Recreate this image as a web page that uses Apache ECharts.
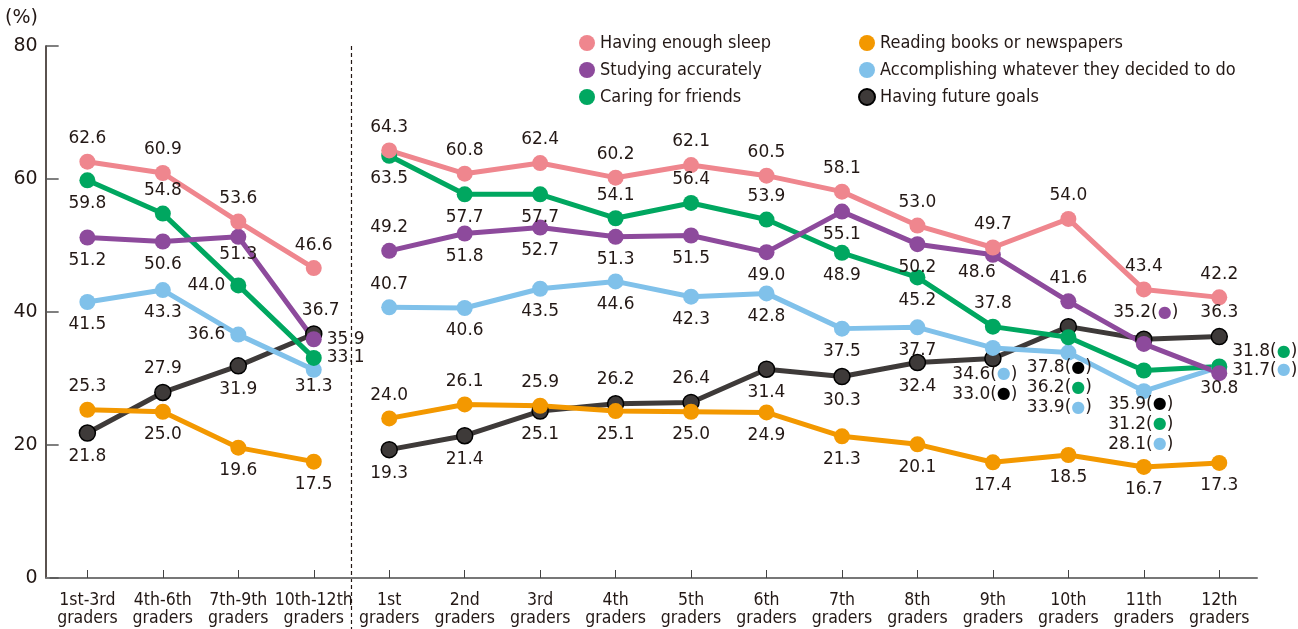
<!DOCTYPE html>
<html>
<head>
<meta charset="utf-8">
<script src="https://cdn.jsdelivr.net/npm/echarts@6/dist/echarts.min.js"></script>
<style>
html,body{margin:0;padding:0;background:#fff;}
#chart{width:1298px;height:629px;}
</style>
</head>
<body>
<div id="chart"></div>
<script>
// ---------- DATA ----------
const categories = ['1st-3rd\ngraders','4th-6th\ngraders','7th-9th\ngraders','10th-12th\ngraders',
  '1st\ngraders','2nd\ngraders','3rd\ngraders','4th\ngraders','5th\ngraders','6th\ngraders',
  '7th\ngraders','8th\ngraders','9th\ngraders','10th\ngraders','11th\ngraders','12th\ngraders'];
const yTicks = [0, 20, 40, 60, 80];

// group A: 1st-3rd .. 10th-12th ; group B: 1st .. 12th graders
const sleepA = [62.6, 60.9, 53.6, 46.6];
const sleepB = [64.3, 60.8, 62.4, 60.2, 62.1, 60.5, 58.1, 53.0, 49.7, 54.0, 43.4, 42.2];
const studyA = [51.2, 50.6, 51.3, 35.9];
const studyB = [49.2, 51.8, 52.7, 51.3, 51.5, 49.0, 55.1, 50.2, 48.6, 41.6, 35.2, 30.8];
const caringA = [59.8, 54.8, 44.0, 33.1];
const caringB = [63.5, 57.7, 57.7, 54.1, 56.4, 53.9, 48.9, 45.2, 37.8, 36.2, 31.2, 31.8];
const readingA = [25.3, 25.0, 19.6, 17.5];
const readingB = [24.0, 26.1, 25.9, 25.1, 25.0, 24.9, 21.3, 20.1, 17.4, 18.5, 16.7, 17.3];
const accompA = [41.5, 43.3, 36.6, 31.3];
const accompB = [40.7, 40.6, 43.5, 44.6, 42.3, 42.8, 37.5, 37.7, 34.6, 33.9, 28.1, 31.7];
const goalsA = [21.8, 27.9, 31.9, 36.7];
const goalsB = [19.3, 21.4, 25.1, 26.2, 26.4, 31.4, 30.3, 32.4, 33.0, 37.8, 35.9, 36.3];

const names = {
  sleep: 'Having enough sleep',
  study: 'Studying accurately',
  caring: 'Caring for friends',
  reading: 'Reading books or newspapers',
  accomp: 'Accomplishing whatever they decided to do',
  goals: 'Having future goals'
};

// ---------- STYLE / LAYOUT ----------
const colors = {
  sleep: '#ef868e', study: '#8d4a9c', caring: '#00a760',
  reading: '#f39800', accomp: '#80c1ea', goals: '#3e3a39'
};
const dotColors = {
  study: '#8d4a9c', caring: '#00a760', accomp: '#80c1ea', goals: '#000000'
};
// label placement codes: t top, b bottom, l left, r right,
// T top with dot, R right with dot, G grouped block (bottom), - hidden
const labelPos = {
  sleep:   ['t','t','t','t', 't','t','t','t','t','t','t','t','t','t','t','t'],
  study:   ['b','b','b','r', 't','b','b','b','b','b','b','b','b','t','T','b'],
  caring:  ['b','t','l','r', 'b','b','b','t','t','t','b','b','t','-','-','R'],
  reading: ['t','b','b','b', 't','t','t','b','b','b','b','b','b','b','b','b'],
  accomp:  ['b','b','l','b', 't','b','b','b','b','b','b','b','-','G','G','R'],
  goals:   ['b','t','b','t', 'b','b','b','t','t','b','b','b','G','-','-','t']
};
const labelNudge = {
  study2: [0,-5], study12: [-16,-5], study14: [2,-8], study15: [0,-8],
  caring15: [0,-15],
  accomp3: [0,-6], accomp13: [-9,-8], accomp14: [-3,-10], accomp15: [0,3],
  goals3: [7,0], goals12: [-8,-8]
};
const groupRows = {
  12: ['accomp','goals'],
  13: ['goals','caring','accomp'],
  14: ['goals','caring','accomp']
};

const dataByKey = {
  sleep: [sleepA, sleepB], study: [studyA, studyB], caring: [caringA, caringB],
  reading: [readingA, readingB], accomp: [accompA, accompB], goals: [goalsA, goalsB]
};
function val(key, idx) {
  const [a, b] = dataByKey[key];
  return idx < 4 ? a[idx] : b[idx - 4];
}

const LABEL_FONT = 'DejaVu Sans';
const NARROW_FONT = '"DejaVu Sans Condensed", "Liberation Sans Narrow", sans-serif';
const TEXT = '#231815';

const rich = {};
Object.keys(dotColors).forEach(k => {
  rich[k] = { color: dotColors[k], fontSize: 16, fontFamily: LABEL_FONT, lineHeight: 20 };
});

function makeLabel(key, idx) {
  const code = labelPos[key][idx];
  if (code === '-') return { show: false };
  const posMap = { t: 'top', b: 'bottom', l: 'left', r: 'right', T: 'top', R: 'right', G: 'bottom' };
  const v = val(key, idx);
  let text;
  if (code === 'T' || code === 'R') {
    text = v.toFixed(1) + '({' + key + '|●})';
  } else if (code === 'G') {
    text = groupRows[idx].map(k => val(k, idx).toFixed(1) + '({' + k + '|●})').join('\n');
  } else {
    text = v.toFixed(1);
  }
  return {
    show: true,
    position: posMap[code],
    distance: 5,
    formatter: () => text,
    fontFamily: LABEL_FONT,
    fontSize: 17,
    lineHeight: 20,
    color: TEXT,
    rich: rich
  };
}

function makeSeries(key, group) {
  const arr = dataByKey[key][group];
  const data = [];
  for (let i = 0; i < 16; i++) {
    const inGroup = group === 0 ? i < 4 : i >= 4;
    if (!inGroup) { data.push('-'); continue; }
    data.push({ value: arr[group === 0 ? i : i - 4], label: makeLabel(key, i) });
  }
  const isGoals = key === 'goals';
  return {
    name: names[key],
    type: 'line',
    data: data,
    symbol: 'circle',
    symbolSize: 16,
    showAllSymbol: true,
    connectNulls: false,
    silent: true,
    lineStyle: { color: colors[key], width: 5 },
    itemStyle: {
      color: colors[key],
      borderColor: isGoals ? '#000' : colors[key],
      borderWidth: isGoals ? 1.5 : 0
    },
    emphasis: { disabled: true },
    labelLayout: function (params) {
      const n = labelNudge[key + params.dataIndex];
      return n ? { dx: n[0], dy: n[1] } : {};
    }
  };
}

const drawOrder = ['goals','reading','accomp','caring','study','sleep'];
const series = [];
drawOrder.forEach(k => { series.push(makeSeries(k, 0)); series.push(makeSeries(k, 1)); });

const legendText = { fontFamily: NARROW_FONT, fontSize: 18, color: TEXT, lineHeight: 20 };

const chart = echarts.init(document.getElementById('chart'), null, { renderer: 'canvas' });
chart.setOption({
  animation: false,
  backgroundColor: '#fff',
  title: {
    text: '(%)', left: 5, top: 9, padding: 0,
    textStyle: { fontFamily: LABEL_FONT, fontSize: 19, fontWeight: 'normal', color: TEXT }
  },
  legend: [
    {
      orient: 'vertical', left: 579, top: 33, padding: 0, itemWidth: 16, itemHeight: 16, itemGap: 7,
      icon: 'circle', selectedMode: false,
      data: [names.sleep, names.study, names.caring], textStyle: legendText
    },
    {
      orient: 'vertical', left: 858, top: 33, padding: 0, itemWidth: 16, itemHeight: 16, itemGap: 7,
      icon: 'circle', selectedMode: false,
      data: [names.reading, names.accomp, names.goals], textStyle: legendText
    }
  ],
  grid: { left: 49.65, right: 41, top: 46, bottom: 51, containLabel: false },
  xAxis: {
    type: 'category',
    data: categories,
    boundaryGap: true,
    axisLine: { show: true, lineStyle: { color: '#777', width: 2 } },
    axisTick: { show: true, alignWithLabel: true, inside: true, length: 8, lineStyle: { color: '#444', width: 1 } },
    axisLabel: {
      interval: 0, margin: 13, fontFamily: NARROW_FONT, fontSize: 17.5, lineHeight: 18, color: TEXT
    },
    splitLine: { show: false }
  },
  yAxis: {
    type: 'value',
    min: yTicks[0], max: yTicks[yTicks.length - 1], interval: yTicks[1] - yTicks[0],
    offset: 4,
    axisLine: { show: true, lineStyle: { color: TEXT, width: 1.5 } },
    axisTick: { show: true, inside: true, length: 13, lineStyle: { color: '#555', width: 1.5 } },
    axisLabel: { margin: 8, fontFamily: LABEL_FONT, fontSize: 19, color: TEXT },
    splitLine: { show: false }
  },
  series: series
});

// divider between the two groups + join of axes, derived from the axis scales
const x3 = chart.convertToPixel({ xAxisIndex: 0 }, 3);
const x4 = chart.convertToPixel({ xAxisIndex: 0 }, 4);
const xDiv = (x3 + x4) / 2;
const yTop = chart.convertToPixel({ yAxisIndex: 0 }, yTicks[yTicks.length - 1]);
const yZero = chart.convertToPixel({ yAxisIndex: 0 }, 0);
const x0 = chart.convertToPixel({ xAxisIndex: 0 }, 0);
const gridLeft = x0 - (x4 - x3) / 2;
chart.setOption({
  graphic: [
    {
      type: 'line', silent: true, z: 0,
      shape: { x1: xDiv, y1: yTop, x2: xDiv, y2: 629 },
      style: { stroke: '#231815', lineWidth: 1.2, lineDash: [4, 3] }
    },
    {
      type: 'line', silent: true, z: 10,
      shape: { x1: gridLeft - 4, y1: yZero, x2: gridLeft, y2: yZero },
      style: { stroke: '#777', lineWidth: 2 }
    }
  ]
});
</script>
</body>
</html>
